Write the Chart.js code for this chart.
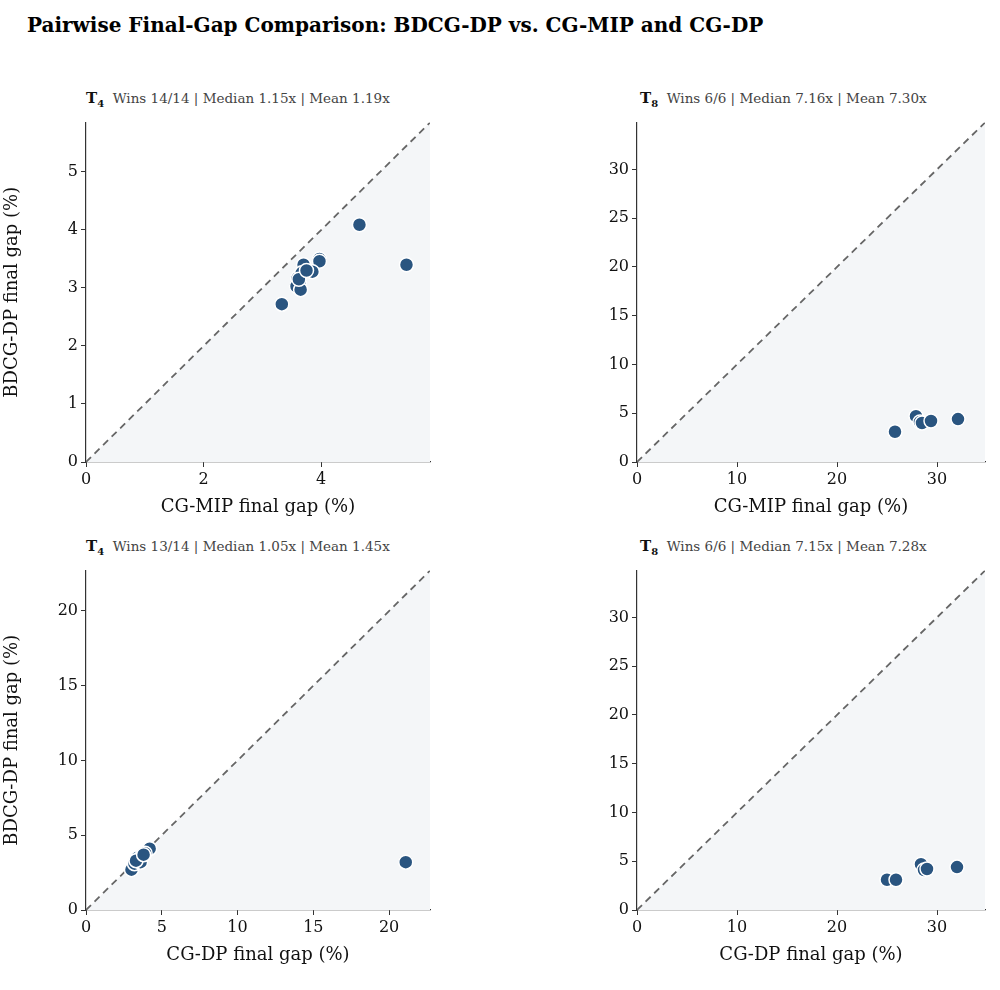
<!DOCTYPE html><html><head><meta charset="utf-8">
<script src="https://cdn.jsdelivr.net/npm/chart.js@4"></script>
<style>
body{margin:0;width:1000px;height:990px;background:#fff;font-family:"DejaVu Serif",serif;position:relative;overflow:hidden}
.c{position:absolute}
.t{position:absolute;font-size:13.5px;color:#444;white-space:nowrap}
.t b{color:#111;font-size:15px}
h1{position:absolute;left:27px;top:13px;margin:0;font-size:20px;font-weight:bold}
</style></head><body>
<h1>Pairwise Final-Gap Comparison: BDCG-DP vs. CG-MIP and CG-DP</h1>
<div class="t" style="left:86px;top:89px"><b>T<sub style="font-size:10px">4</sub></b>&nbsp; Wins 14/14 | Median 1.15x | Mean 1.19x</div>
<div class="t" style="left:640px;top:89px"><b>T<sub style="font-size:10px">8</sub></b>&nbsp; Wins 6/6 | Median 7.16x | Mean 7.30x</div>
<div class="t" style="left:86px;top:537px"><b>T<sub style="font-size:10px">4</sub></b>&nbsp; Wins 13/14 | Median 1.05x | Mean 1.45x</div>
<div class="t" style="left:640px;top:537px"><b>T<sub style="font-size:10px">8</sub></b>&nbsp; Wins 6/6 | Median 7.15x | Mean 7.28x</div>
<canvas id="a" class="c"></canvas><canvas id="b" class="c"></canvas><canvas id="c" class="c"></canvas><canvas id="d" class="c"></canvas>
<script>
const tlX=[4.65,5.45,3.33,3.70,3.97,3.97,3.85,3.60,3.63,3.58,3.65,3.67,3.62,3.75];
const tlY=[4.09,3.40,2.72,3.40,3.50,3.46,3.28,3.17,3.10,3.03,2.97,3.26,3.15,3.30];
const trX=[25.8,27.9,28.3,28.5,29.4,32.1];
const trY=[3.1,4.7,4.1,4.0,4.2,4.4];
const blX=[21.1,4.2,3.0,3.3,3.5,3.6,3.4,3.7,3.2,3.5,3.9,3.6,3.3,3.8];
const blY=[3.2,4.1,2.7,3.4,3.2,3.3,3.5,3.6,3.1,3.4,3.8,3.2,3.3,3.7];
const brX=[25.0,25.9,28.4,28.7,29.0,32.0];
const brY=[3.1,3.1,4.7,4.1,4.2,4.4];
const F={family:"DejaVu Serif",size:16};
function mk(id,left,top,yw,X,Y,max,xs,ys,xl,yl){
  const cv=document.getElementById(id);
  const W=(left===0?440:415),H=412;
  cv.style.left=left+'px';cv.style.top=top+'px';cv.style.width=W+'px';cv.style.height=H+'px';
  const ax=(title,w,isY,step)=>({type:'linear',min:0,max:max,
    border:{display:true,color:'#333',width:1.2},
    grid:{display:true,drawOnChartArea:false,drawTicks:true,tickLength:5,color:'#333'},
    ticks:{stepSize:step,font:F,color:'#111',padding:3},
    title:{display:true,text:title,font:{family:"DejaVu Serif",size:18},color:'#111',padding:{top:2,bottom:4}},
    afterBuildTicks:s=>{s.ticks=[];for(let v=0;v<=max+1e-9;v+=step)s.ticks.push({value:+v.toFixed(6)});},
    afterFit:s=>{if(isY)s.width=w;else s.height=w;}});
  new Chart(cv,{type:'scatter',data:{datasets:[
    {data:X.map((x,i)=>({x:x,y:Y[i]})),backgroundColor:'#2a5580',borderColor:'#fff',borderWidth:1.5,pointRadius:7,order:0},
    {data:[{x:0,y:0},{x:max,y:max}],showLine:true,borderColor:'#666',borderWidth:1.8,borderDash:[7,5],pointRadius:0,fill:'start',backgroundColor:'#f4f6f8',order:1}
  ]},options:{responsive:false,devicePixelRatio:1,animation:false,
    layout:{padding:{top:8,right:10,left:0,bottom:0}},
    plugins:{legend:{display:false},tooltip:{enabled:false}},
    scales:{x:ax(xl,60,false,xs),y:ax(yl,yw,true,ys)}}});
}
mk('a',0,110,86,tlX,tlY,5.85,2,1,'CG-MIP final gap (%)','BDCG-DP final gap (%)');
mk('b',580,110,57,trX,trY,34.8,10,5,'CG-MIP final gap (%)','');
mk('c',0,558,86,blX,blY,22.7,5,5,'CG-DP final gap (%)','BDCG-DP final gap (%)');
mk('d',580,558,57,brX,brY,34.8,10,5,'CG-DP final gap (%)','');
</script></body></html>
